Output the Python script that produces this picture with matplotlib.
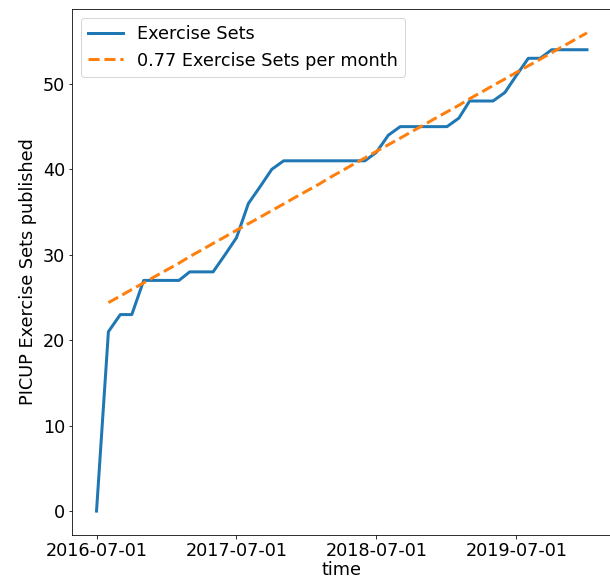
import numpy as np
import pandas as pd
import matplotlib
matplotlib.use("Agg")
import matplotlib.pyplot as plt
import matplotlib.dates as mdates

# ---- data ----
start_date = "2016-07-01"
end_date = "2020-01-01"
exercise_sets = [0, 21, 23, 23, 27, 27, 27, 27, 28, 28, 28, 30, 32, 36, 38, 40,
                 41, 41, 41, 41, 41, 41, 41, 41, 42, 44, 45, 45, 45, 45, 45, 46,
                 48, 48, 48, 49, 51, 53, 53, 54, 54, 54, 54]
fit_slope = 0.77      # exercise sets per month
fit_start = 24.4      # fitted value at the second month
tick_dates = ["2016-07-01", "2017-07-01", "2018-07-01", "2019-07-01"]
series_label = "Exercise Sets"
fit_label = f"{fit_slope:.2f} Exercise Sets per month"
x_label = "time"
y_label = "PICUP Exercise Sets published"

dates = pd.date_range(start_date, end_date, freq="MS")
fit_dates = dates[1:]
fit_values = fit_start + fit_slope * np.arange(len(fit_dates))

plt.rcParams["font.size"] = 17.6
fig = plt.figure(figsize=(610 / 72, 582 / 72), dpi=72)
ax = fig.add_axes([72 / 610, 47 / 582, 539.5 / 610, 526 / 582])

ax.plot(dates, exercise_sets, color="C0", lw=3, label=series_label)
ax.plot(fit_dates, fit_values, color="C1", lw=3, ls="--", label=fit_label)

ax.set_xticks(pd.to_datetime(tick_dates))
ax.xaxis.set_major_formatter(mdates.DateFormatter("%Y-%m-%d"))
ax.set_yticks([0, 10, 20, 30, 40, 50])
ax.set_xlabel(x_label, labelpad=1)
ax.set_ylabel(y_label, labelpad=6)
ax.legend(loc="upper left")

fig.savefig("out.png", dpi=72)
